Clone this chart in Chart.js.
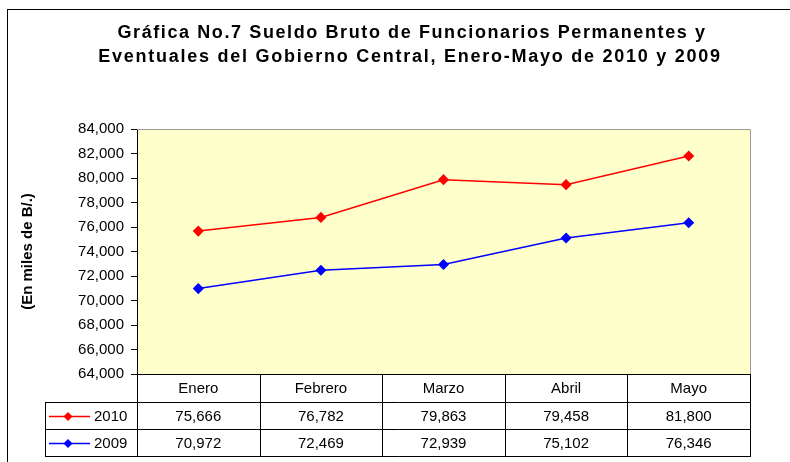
<!DOCTYPE html>
<html>
<head>
<meta charset="utf-8">
<script src="https://cdn.jsdelivr.net/npm/chart.js@4.4.1/dist/chart.umd.min.js"></script>
<style>
  html, body { margin: 0; padding: 0; background: #fff; }
</style>
</head>
<body>
<canvas id="myChart" width="790" height="462"></canvas>
<script>
  // data
  var months = ["Enero", "Febrero", "Marzo", "Abril", "Mayo"];
  var sueldo2010 = [75666, 76782, 79863, 79458, 81800];
  var sueldo2009 = [70972, 72469, 72939, 75102, 76346];
  var yMin = 64000, yMax = 84000, yStep = 2000;
  var titleLines = [
    "Gráfica No.7 Sueldo Bruto de Funcionarios Permanentes y",
    "Eventuales del Gobierno Central, Enero-Mayo de 2010 y 2009"
  ];

  var FONT = "Arial, 'Liberation Sans', sans-serif";

  function fmt(n) {
    return n.toLocaleString('en-US');
  }

  function diamond(ctx, x, y, r, color) {
    ctx.fillStyle = color;
    ctx.beginPath();
    ctx.moveTo(x, y - r);
    ctx.lineTo(x + r, y);
    ctx.lineTo(x, y + r);
    ctx.lineTo(x - r, y);
    ctx.closePath();
    ctx.fill();
  }

  // background, frame and yellow plot area
  var backdrop = {
    id: 'backdrop',
    beforeDraw: function(chart) {
      var ctx = chart.ctx, a = chart.chartArea;
      ctx.save();
      ctx.fillStyle = '#fff';
      ctx.fillRect(0, 0, chart.width, chart.height);
      ctx.strokeStyle = '#000';
      ctx.lineWidth = 1;
      ctx.strokeRect(7.5, 9.5, 900, 600);
      ctx.fillStyle = '#FFFFCC';
      ctx.fillRect(a.left, a.top, a.right - a.left, a.bottom - a.top);
      ctx.restore();
    }
  };

  // title + data table under the plot
  var tablePlugin = {
    id: 'dataTable',
    afterDraw: function(chart) {
      var ctx = chart.ctx, a = chart.chartArea, xs = chart.scales.x;
      ctx.save();

      // title (spaced out like the original)
      ctx.fillStyle = '#000';
      ctx.font = 'bold 18px ' + FONT;
      ctx.textAlign = 'center';
      ctx.textBaseline = 'middle';
      ctx.letterSpacing = '1.6px';
      ctx.fillText(titleLines[0], 412, 33);
      ctx.letterSpacing = '1.75px';
      ctx.fillText(titleLines[1], 410, 57);
      ctx.letterSpacing = '0px';

      // plot border: gray top / right
      ctx.strokeStyle = '#999';
      ctx.lineWidth = 1;
      ctx.beginPath();
      ctx.moveTo(a.left, a.top + 0.5);
      ctx.lineTo(a.right + 0.5, a.top + 0.5);
      ctx.lineTo(a.right + 0.5, a.bottom);
      ctx.stroke();

      var colW = (a.right - a.left) / months.length;
      var legLeft = 45.5;
      var r0 = a.bottom, r1 = r0 + 28, r2 = r1 + 27, r3 = r2 + 27;

      ctx.strokeStyle = '#000';
      ctx.beginPath();
      // x axis line / header top
      ctx.moveTo(a.left, r0 + 0.5);
      ctx.lineTo(a.right + 1, r0 + 0.5);
      [r1, r2, r3].forEach(function(y) {
        ctx.moveTo(legLeft, y + 0.5);
        ctx.lineTo(a.right + 1, y + 0.5);
      });
      for (var i = 0; i <= months.length; i++) {
        var x = Math.round(a.left + i * colW) + 0.5;
        ctx.moveTo(x, r0);
        ctx.lineTo(x, r3 + 1);
      }
      ctx.moveTo(legLeft, r1);
      ctx.lineTo(legLeft, r3 + 1);
      ctx.stroke();

      ctx.font = '15px ' + FONT;
      ctx.fillStyle = '#000';
      ctx.textAlign = 'center';
      ctx.textBaseline = 'middle';
      months.forEach(function(m, i) {
        var cx = xs.getPixelForValue(i);
        ctx.fillText(m, cx, (r0 + r1) / 2 + 1);
        ctx.fillText(fmt(sueldo2010[i]), cx, (r1 + r2) / 2 + 1);
        ctx.fillText(fmt(sueldo2009[i]), cx, (r2 + r3) / 2 + 1);
      });

      // legend keys in the first column
      var keys = [
        { label: '2010', color: '#FF0000', y: (r1 + r2) / 2 + 1 },
        { label: '2009', color: '#0000FF', y: (r2 + r3) / 2 + 1 }
      ];
      keys.forEach(function(k) {
        ctx.strokeStyle = k.color;
        ctx.lineWidth = 1.5;
        ctx.beginPath();
        ctx.moveTo(49, k.y);
        ctx.lineTo(90, k.y);
        ctx.stroke();
        diamond(ctx, 68, k.y, 4.5, k.color);
        ctx.fillStyle = '#000';
        ctx.textAlign = 'left';
        ctx.fillText(k.label, 94, k.y);
      });

      ctx.restore();
    }
  };

  var ctx = document.getElementById('myChart');

  var myChart = new Chart(ctx, {
    type: 'line',
    data: {
      labels: months,
      datasets: [
        {
          label: '2010',
          data: sueldo2010,
          borderColor: '#FF0000',
          backgroundColor: '#FF0000',
          borderWidth: 1.5,
          pointStyle: 'rectRot',
          pointRadius: 4.5,
          tension: 0
        },
        {
          label: '2009',
          data: sueldo2009,
          borderColor: '#0000FF',
          backgroundColor: '#0000FF',
          borderWidth: 1.5,
          pointStyle: 'rectRot',
          pointRadius: 4.5,
          tension: 0
        }
      ]
    },
    options: {
      responsive: false,
      animation: false,
      layout: { padding: { top: 129, left: 8, right: 40, bottom: 88 } },
      plugins: {
        legend: { display: false },
        title: { display: false },
        tooltip: { enabled: false }
      },
      scales: {
        x: {
          display: false,
          offset: true
        },
        y: {
          min: yMin,
          max: yMax,
          afterFit: function(scale) { scale.width = 129; },
          ticks: {
            stepSize: yStep,
            color: '#000',
            padding: 7,
            font: { family: FONT, size: 15 },
            callback: function(v) { return fmt(v); }
          },
          grid: {
            drawOnChartArea: false,
            drawTicks: true,
            tickLength: 6,
            color: '#000'
          },
          border: { color: '#000' },
          title: {
            display: true,
            text: '(En miles de B/.)',
            color: '#000',
            font: { family: FONT, size: 15, weight: 'bold' },
            padding: { top: 11, bottom: 0 }
          }
        }
      }
    },
    plugins: [backdrop, tablePlugin]
  });
</script>
</body>
</html>
